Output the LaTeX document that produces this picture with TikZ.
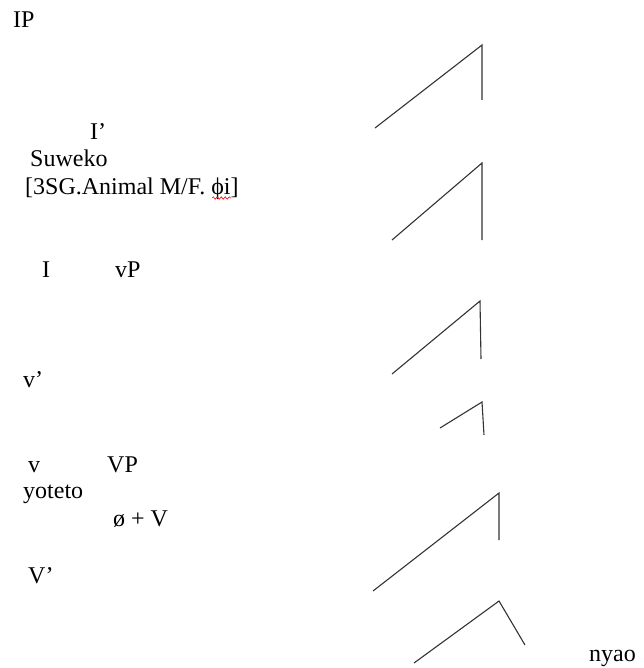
\documentclass[tikz,border=0pt]{standalone}
\usepackage{fontspec}
\setmainfont{Liberation Serif}
\usepackage{tikz}
\usetikzlibrary{decorations.pathmorphing}

\begin{document}
\begin{tikzpicture}[
    x=1pt, y=-1pt,
    lab/.style={anchor=base west, inner sep=0pt, font=\fontsize{24}{28}\selectfont},
    branch/.style={line width=1.1pt, black!80, line join=miter},
    squiggle/.style={red, line width=0.6pt, decorate,
        decoration={snake, amplitude=1.2pt, segment length=4pt}},
]
\useasboundingbox (0,0) rectangle (643,668);

% ── Labels ──────
\node[lab] (IP) at (13,28) {IP};
\node[lab] (Ibar) at (90,140) {I’};
\node[lab] (suweko) at (30,167) {Suweko};
\node[lab] (feat) at (25,195) {[3SG.Animal M/F. ϕi]};
\node[lab] (I) at (42,277) {I};
\node[lab] (vP) at (115,277) {vP};
\node[lab] (vbar) at (23,387) {v’};
\node[lab] (v) at (28,472) {v};
\node[lab] (VP) at (107,472) {VP};
\node[lab] (yoteto) at (23,498) {yoteto};
\node[lab] (nullV) at (113,526) {ø + V};
\node[lab] (Vbar) at (28,583) {V’};
\node[lab] (nyao) at (589,661) {nyao};

% ── Branches ──────
\coordinate (b1l) at (375,128); \coordinate (b1t) at (482,45);  \coordinate (b1r) at (482,100);
\coordinate (b2l) at (392,240); \coordinate (b2t) at (482,163); \coordinate (b2r) at (482,240);
\coordinate (b3l) at (392,374); \coordinate (b3t) at (480,301); \coordinate (b3r) at (481,359);
\coordinate (b4l) at (440,428); \coordinate (b4t) at (482,402); \coordinate (b4r) at (484,435);
\coordinate (b5l) at (373,591); \coordinate (b5t) at (499,493); \coordinate (b5r) at (499,540);
\coordinate (b6l) at (414,663); \coordinate (b6t) at (499,601); \coordinate (b6r) at (525,645);

\draw[branch] (b1l) -- (b1t) -- (b1r);
\draw[branch] (b2l) -- (b2t) -- (b2r);
\draw[branch] (b3l) -- (b3t) -- (b3r);
\draw[branch] (b4l) -- (b4t) -- (b4r);
\draw[branch] (b5l) -- (b5t) -- (b5r);
\draw[branch] (b6l) -- (b6t) -- (b6r);

% ── Spell-check mark ──────
\draw[squiggle] (212,198) -- (231,198);

\end{tikzpicture}
\end{document}
